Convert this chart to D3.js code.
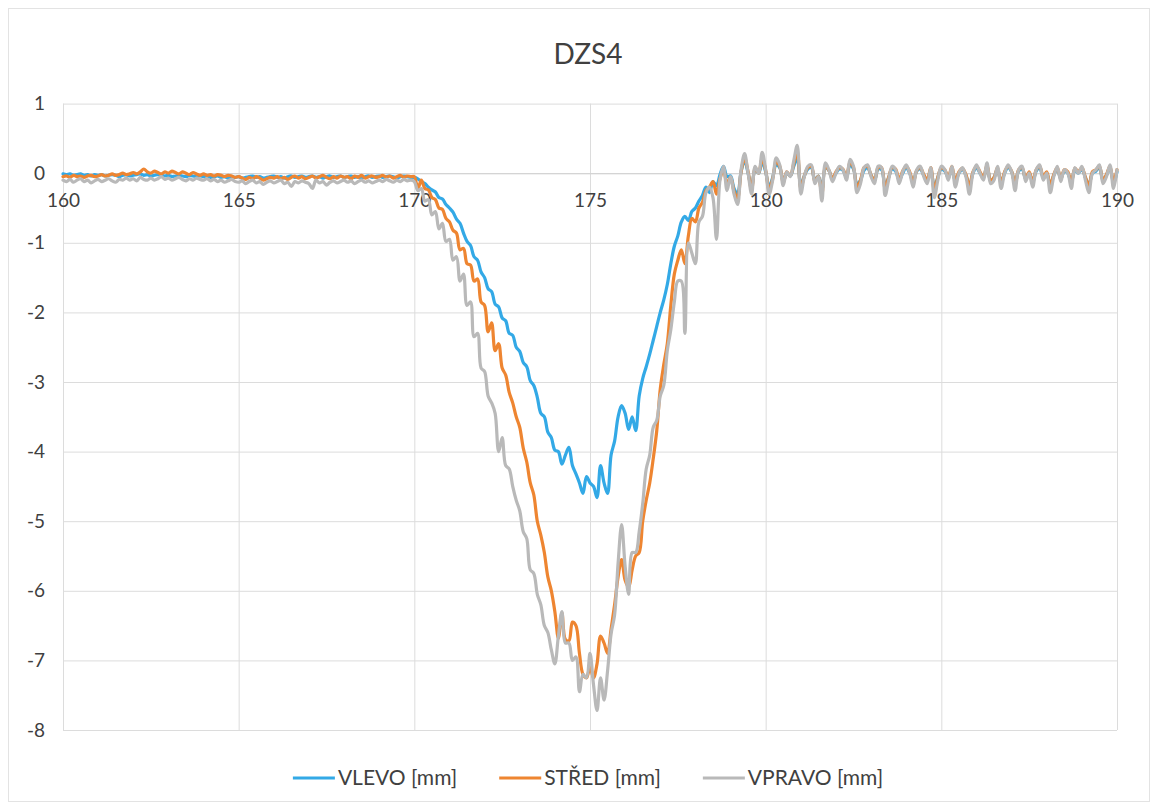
<!DOCTYPE html>
<html>
<head>
<meta charset="utf-8">
<script src="https://cdn.jsdelivr.net/npm/d3@7"></script>
<style>
  body { margin: 0; background: #ffffff; }
  svg { display: block; }
  text { font-family: Lato, "Open Sans", "Liberation Sans", sans-serif; fill: #404040; }
</style>
</head>
<body>
<svg id="chart" width="1158" height="810"></svg>
<script>
// ---- chart content ----
const chartTitle = "DZS4";
const xTicks = [160, 165, 170, 175, 180, 185, 190];
const yTicks = [1, 0, -1, -2, -3, -4, -5, -6, -7, -8];
const seriesNames = ["VLEVO [mm]", "STŘED [mm]", "VPRAVO [mm]"];

// sampling grid of the measurement (position along the track)
const xStart = 160;
const xStep = 0.1;

// deflection, left sensor
const vlevo = [
  -0.01,-0.02,-0.01,-0.03,-0.02,-0.01,-0.03,-0.02,-0.04,-0.02,
  -0.03,-0.02,-0.04,-0.03,-0.02,-0.03,-0.05,-0.03,-0.02,-0.04,
  -0.03,-0.02,-0.01,-0.03,-0.02,-0.04,-0.03,-0.02,-0.03,-0.04,
  -0.03,-0.05,-0.04,-0.03,-0.04,-0.05,-0.03,-0.04,-0.05,-0.04,
  -0.05,-0.04,-0.06,-0.05,-0.04,-0.06,-0.05,-0.07,-0.05,-0.06,
  -0.05,-0.07,-0.06,-0.05,-0.04,-0.06,-0.05,-0.07,-0.06,-0.05,
  -0.04,-0.06,-0.05,-0.07,-0.05,-0.04,-0.06,-0.05,-0.04,-0.06,
  -0.05,-0.04,-0.06,-0.05,-0.07,-0.05,-0.04,-0.06,-0.05,-0.04,
  -0.06,-0.05,-0.04,-0.06,-0.05,-0.07,-0.05,-0.04,-0.06,-0.05,
  -0.04,-0.06,-0.05,-0.04,-0.05,-0.07,-0.05,-0.04,-0.05,-0.06,
  -0.06,-0.08,-0.12,-0.15,-0.2,-0.24,-0.27,-0.35,-0.37,-0.45,
  -0.5,-0.56,-0.66,-0.72,-0.86,-0.98,-1.04,-1.2,-1.25,-1.42,
  -1.5,-1.66,-1.7,-1.88,-1.92,-2.08,-2.12,-2.3,-2.33,-2.5,
  -2.56,-2.72,-2.78,-2.98,-3.05,-3.22,-3.45,-3.5,-3.72,-3.8,
  -3.98,-4.0,-4.18,-4.05,-3.94,-4.2,-4.32,-4.45,-4.6,-4.36,
  -4.45,-4.5,-4.66,-4.2,-4.45,-4.6,-4.05,-3.85,-3.5,-3.34,
  -3.45,-3.68,-3.5,-3.7,-3.2,-2.95,-2.78,-2.6,-2.4,-2.2,
  -2.0,-1.82,-1.6,-1.3,-1.05,-0.9,-0.7,-0.62,-0.68,-0.55,
  -0.5,-0.4,-0.32,-0.2,-0.28,-0.12,-0.18,-0.02,0.1,-0.05,
  -0.04,-0.22,-0.3,0.02,0.18,0.0,-0.2,0.06,0.0,0.16,
  0.02,-0.2,-0.06,0.12,0.08,-0.12,0.0,-0.04,0.1,0.22,
  -0.18,-0.04,0.06,0.08,-0.1,-0.04,-0.24,0.08,0.04,-0.08,
  0.0,0.06,0.04,-0.06,0.12,0.06,-0.16,-0.1,0.04,0.08,
  -0.03,-0.1,0.06,0.05,-0.18,-0.06,0.06,0.03,-0.1,0.0,
  0.08,0.0,-0.12,0.03,0.06,-0.03,-0.1,0.05,-0.2,-0.06,
  0.06,0.03,-0.06,0.06,-0.12,0.0,0.05,-0.03,-0.18,0.0,
  0.08,0.0,-0.06,0.1,-0.1,-0.06,0.06,-0.14,0.0,0.08,
  0.02,-0.15,0.03,0.06,-0.08,0.0,-0.12,0.03,0.08,-0.06,
  0.0,-0.17,-0.03,0.06,-0.08,0.03,0.0,-0.13,0.05,0.0,
  0.06,-0.06,-0.17,0.0,0.03,0.08,-0.1,-0.03,0.08,-0.14,
  0.02
];

// deflection, centre sensor
const stred = [
  -0.05,-0.04,-0.06,-0.03,-0.05,-0.04,-0.06,-0.04,-0.03,-0.05,
  -0.04,-0.02,-0.04,-0.03,-0.01,-0.03,-0.02,0.0,-0.02,-0.01,
  0.01,-0.01,0.02,0.06,0.02,0.0,0.03,0.01,-0.01,0.02,
  0.0,0.03,0.01,-0.01,0.02,0.0,-0.02,0.01,-0.01,-0.03,
  -0.01,-0.03,-0.02,-0.04,-0.02,-0.03,-0.05,-0.03,-0.04,-0.06,
  -0.05,-0.07,-0.09,-0.06,-0.08,-0.05,-0.07,-0.1,-0.08,-0.06,
  -0.07,-0.05,-0.08,-0.06,-0.09,-0.06,-0.04,-0.07,-0.05,-0.08,
  -0.06,-0.04,-0.07,-0.05,-0.03,-0.06,-0.08,-0.05,-0.07,-0.04,
  -0.06,-0.05,-0.08,-0.04,-0.06,-0.03,-0.07,-0.05,-0.04,-0.06,
  -0.05,-0.03,-0.06,-0.04,-0.07,-0.05,-0.03,-0.06,-0.04,-0.05,
  -0.05,-0.22,-0.1,-0.22,-0.24,-0.35,-0.38,-0.5,-0.52,-0.65,
  -0.7,-0.82,-0.86,-1.1,-1.08,-1.3,-1.32,-1.55,-1.52,-1.85,
  -1.9,-2.28,-2.15,-2.55,-2.45,-2.8,-2.9,-3.15,-3.3,-3.5,
  -3.65,-3.95,-4.15,-4.45,-4.62,-5.0,-5.2,-5.45,-5.8,-6.0,
  -6.3,-6.68,-6.32,-6.7,-6.72,-6.45,-6.5,-6.9,-7.2,-7.25,
  -7.1,-7.25,-7.05,-6.65,-6.75,-6.9,-6.55,-6.2,-5.8,-5.55,
  -5.85,-5.95,-5.7,-5.5,-5.45,-5.0,-4.7,-4.45,-4.1,-3.7,
  -3.1,-2.75,-2.45,-1.9,-1.45,-1.25,-1.1,-1.3,-0.9,-0.65,
  -0.7,-0.5,-0.42,-0.25,-0.2,-0.12,-0.3,-0.08,0.05,-0.15,
  -0.06,-0.26,-0.36,0.02,0.22,0.02,-0.24,0.08,0.0,0.22,
  0.04,-0.24,-0.08,0.16,0.1,-0.14,0.02,-0.04,0.14,0.3,
  -0.22,-0.04,0.08,0.1,-0.12,-0.04,-0.3,0.1,0.04,-0.08,
  0.02,0.08,0.06,-0.06,0.16,0.08,-0.2,-0.1,0.08,0.1,
  -0.03,-0.1,0.08,0.08,-0.22,-0.06,0.08,0.06,-0.1,0.03,
  0.1,0.02,-0.14,0.04,0.08,-0.02,-0.1,0.08,-0.24,-0.06,
  0.08,0.05,-0.06,0.1,-0.12,0.02,0.07,-0.02,-0.2,0.02,
  0.1,0.02,-0.06,0.12,-0.1,-0.06,0.08,-0.15,0.02,0.1,
  0.03,-0.16,0.05,0.08,-0.08,0.02,-0.13,0.05,0.1,-0.05,
  0.02,-0.18,-0.02,0.08,-0.08,0.05,0.02,-0.14,0.07,0.02,
  0.08,-0.06,-0.18,0.02,0.05,0.1,-0.1,-0.02,0.1,-0.12,
  0.05
];

// deflection, right sensor
const vpravo = [
  -0.1,-0.12,-0.09,-0.13,-0.1,-0.08,-0.12,-0.1,-0.14,-0.11,
  -0.09,-0.12,-0.1,-0.08,-0.11,-0.13,-0.09,-0.1,-0.07,-0.1,
  -0.08,-0.11,-0.06,-0.09,-0.1,-0.07,-0.1,-0.08,-0.05,-0.09,
  -0.07,-0.1,-0.08,-0.06,-0.09,-0.11,-0.08,-0.1,-0.07,-0.09,
  -0.1,-0.08,-0.11,-0.09,-0.12,-0.1,-0.13,-0.11,-0.09,-0.12,
  -0.13,-0.11,-0.15,-0.12,-0.1,-0.14,-0.12,-0.16,-0.13,-0.11,
  -0.14,-0.12,-0.1,-0.15,-0.13,-0.19,-0.12,-0.14,-0.11,-0.13,
  -0.15,-0.22,-0.1,-0.14,-0.12,-0.17,-0.13,-0.11,-0.14,-0.12,
  -0.1,-0.13,-0.11,-0.15,-0.12,-0.1,-0.13,-0.11,-0.14,-0.12,
  -0.1,-0.12,-0.09,-0.11,-0.13,-0.1,-0.12,-0.09,-0.11,-0.1,
  -0.12,-0.25,-0.22,-0.4,-0.38,-0.6,-0.55,-0.8,-0.72,-0.98,
  -0.95,-1.25,-1.2,-1.55,-1.45,-1.9,-1.85,-2.35,-2.3,-2.8,
  -2.85,-3.2,-3.3,-3.45,-4.0,-3.8,-4.2,-4.25,-4.5,-4.7,
  -4.85,-5.15,-5.25,-5.7,-5.75,-6.05,-6.2,-6.5,-6.6,-6.85,
  -7.05,-6.65,-6.3,-6.75,-6.75,-7.0,-6.95,-7.45,-7.2,-7.25,
  -6.9,-7.35,-7.72,-7.25,-7.57,-7.15,-6.62,-6.35,-5.6,-5.05,
  -5.65,-6.05,-5.45,-5.45,-5.15,-4.75,-4.25,-4.05,-3.65,-3.55,
  -3.2,-3.05,-2.55,-2.25,-1.85,-1.55,-1.55,-2.3,-1.0,-1.15,
  -1.3,-0.7,-0.62,-0.28,-0.2,-0.35,-0.95,-0.1,0.1,-0.25,
  -0.05,-0.3,-0.45,0.05,0.28,0.0,-0.3,0.1,0.0,0.3,
  0.05,-0.3,-0.1,0.22,0.12,-0.18,0.02,-0.05,0.18,0.4,
  -0.3,-0.05,0.1,0.12,-0.15,-0.05,-0.4,0.15,0.05,-0.12,
  0.0,0.1,0.05,-0.1,0.2,0.1,-0.28,-0.15,0.08,0.12,
  -0.05,-0.15,0.1,0.08,-0.32,-0.1,0.1,0.05,-0.15,0.02,
  0.12,0.0,-0.2,0.05,0.1,-0.05,-0.15,0.08,-0.35,-0.1,
  0.1,0.05,-0.1,0.1,-0.2,0.0,0.08,-0.05,-0.3,0.0,
  0.12,0.0,-0.1,0.15,-0.15,-0.1,0.1,-0.22,0.0,0.12,
  0.02,-0.25,0.05,0.1,-0.12,0.0,-0.2,0.05,0.12,-0.1,
  0.0,-0.28,-0.05,0.1,-0.12,0.05,0.0,-0.22,0.08,0.0,
  0.1,-0.1,-0.28,0.0,0.05,0.12,-0.15,-0.05,0.12,-0.22,
  0.05
];

// ---- drawing ----
const colors = ["#33a9e6", "#ee8531", "#b9b9b9"];
const W = 1158, H = 810;
const plot = { left: 63, right: 1117, top: 103.6, bottom: 730 };

const svg = d3.select("#chart");

// chart frame
svg.append("rect")
  .attr("x", 8.5).attr("y", 8.5)
  .attr("width", W - 17).attr("height", H - 17)
  .attr("fill", "none").attr("stroke", "#e3e3e3").attr("stroke-width", 1);

const x = d3.scaleLinear().domain([160, 190]).range([plot.left, plot.right]);
const y = d3.scaleLinear().domain([-8, 1]).range([plot.bottom, plot.top]);

// horizontal gridlines + value labels
const yAxis = svg.append("g")
  .attr("transform", `translate(${plot.left},0)`)
  .call(d3.axisLeft(y).tickValues(yTicks).tickFormat(d3.format("d"))
    .tickSize(-(plot.right - plot.left)).tickPadding(18));
yAxis.select(".domain").remove();
yAxis.selectAll(".tick line").attr("stroke", "#dcdcdc").attr("stroke-width", 1);
yAxis.selectAll(".tick text").style("font-size", "19px").attr("fill", "#404040")
  .text(d => d < 0 ? "-" + Math.abs(d) : d);

// vertical gridlines
const xGrid = svg.append("g")
  .attr("transform", `translate(0,${plot.bottom})`)
  .call(d3.axisBottom(x).tickValues(xTicks).tickSize(-(plot.bottom - plot.top)).tickFormat(""));
xGrid.select(".domain").remove();
xGrid.selectAll(".tick line").attr("stroke", "#dcdcdc").attr("stroke-width", 1);

// category labels sit under the zero line
const xAxis = svg.append("g")
  .attr("transform", `translate(0,${y(0)})`)
  .call(d3.axisBottom(x).tickValues(xTicks).tickFormat(d3.format("d")).tickSize(0).tickPadding(20));
xAxis.select(".domain").attr("stroke", "#d0d0d0");
xAxis.selectAll(".tick text").style("font-size", "19px").attr("fill", "#404040");

// series
const seriesData = [vlevo, stred, vpravo];
const line = d3.line()
  .curve(d3.curveCatmullRom.alpha(0.5))
  .x((d, i) => x(xStart + i * xStep))
  .y(d => y(d));

svg.append("g").selectAll("path")
  .data(seriesData)
  .join("path")
  .attr("d", line)
  .attr("fill", "none")
  .attr("stroke", (d, i) => colors[i])
  .attr("stroke-width", 3.2)
  .attr("stroke-linejoin", "round")
  .attr("stroke-linecap", "round");

// title
svg.append("text")
  .attr("x", 588).attr("y", 64)
  .attr("text-anchor", "middle")
  .style("font-size", "28px")
  .attr("fill", "#333333")
  .text(chartTitle);

// legend
const legend = svg.append("g").attr("transform", "translate(0,778)");
const items = legend.selectAll("g").data(seriesNames).join("g");
items.append("line")
  .attr("x1", 0).attr("x2", 42).attr("y1", 0).attr("y2", 0)
  .attr("stroke", (d, i) => colors[i]).attr("stroke-width", 3);
items.append("text")
  .attr("x", 45).attr("y", 0).attr("dy", "0.35em")
  .style("font-size", "21px").attr("fill", "#404040")
  .text(d => d);
let widths = [];
items.each(function () { widths.push(45 + this.querySelector("text").getComputedTextLength()); });
const gap = 42;
const total = d3.sum(widths) + gap * (widths.length - 1);
let cursor = 588 - total / 2;
items.attr("transform", (d, i) => {
  const t = `translate(${cursor},0)`;
  cursor += widths[i] + gap;
  return t;
});
</script>
</body>
</html>
